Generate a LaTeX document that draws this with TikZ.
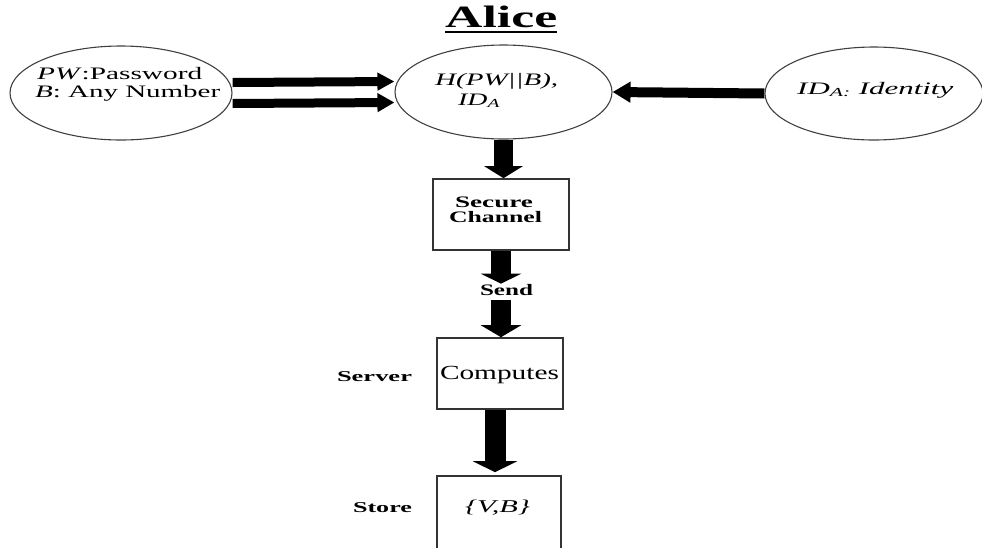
\documentclass[tikz,border=0pt]{standalone}
\usepackage{fontspec}
\setmainfont{Liberation Serif}
\usetikzlibrary{arrows.meta,shapes.geometric}

% stretch a piece of text horizontally to a given width, keeping its height
\newcommand{\widen}[2]{\resizebox{#1}{\height}{#2}}

\tikzset{
  oval/.style={ellipse, draw=black!75, line width=1.1pt, inner sep=0pt},
  stepbox/.style={rectangle, draw=black!80, line width=1.6pt, inner sep=0pt},
  txt/.style={inner sep=0pt, anchor=base},
  txtl/.style={inner sep=0pt, anchor=base west},
  fat/.style={draw=black, line width=#1},
}

\begin{document}
\begin{tikzpicture}[x=1pt,y=-1pt]
\useasboundingbox (0,0) rectangle (982,547);

% title
\node[txtl, font=\fontsize{31}{33}\selectfont\bfseries] (alice) at (445,27) {\widen{112pt}{Alice}};
\draw[line width=2pt] ([yshift=-5pt]alice.base west) -- ([yshift=-5pt]alice.base east);

% inputs on Alice's side
\node[oval, minimum width=222pt, minimum height=94pt] (pw) at (121,93) {};
\node[oval, minimum width=217pt, minimum height=94pt] (h)  at (503.5,92) {};
\node[oval, minimum width=218pt, minimum height=93pt] (id) at (874,93.5) {};

\node[txtl, font=\fontsize{17.5}{19}\selectfont] (pwa) at (37,79)
  {\widen{165pt}{\textit{PW}:Password}};
\node[txtl, font=\fontsize{17.5}{19}\selectfont] (pwb) at (35,97)
  {\widen{185pt}{\textit{B}: Any Number}};

\node[txtl, font=\fontsize{17.5}{19}\selectfont\itshape] (ha) at (435,85)
  {\widen{123pt}{H(PW||B),}};
\node[txtl, font=\fontsize{17.5}{19}\selectfont\itshape] (hb) at (458,105)
  {\widen{42pt}{ID\textsubscript{A}}};

\node[txtl, font=\fontsize{17.5}{19}\selectfont\itshape] (ida) at (797,94)
  {\widen{156pt}{ID\textsubscript{A:} Identity}};

% processing chain
\node[stepbox, minimum width=136pt, minimum height=71pt] (sc) at (501,214.5) {};
\node[stepbox, minimum width=126pt, minimum height=71pt] (cp) at (500,373.5) {};
\node[stepbox, minimum width=124pt, minimum height=74pt] (st) at (499,513) {};

\node[txt, font=\fontsize{16}{18}\selectfont\bfseries] (sca) at (494,207) {\widen{78pt}{Secure}};
\node[txt, font=\fontsize{16}{18}\selectfont\bfseries] (scb) at (495.5,222) {\widen{93pt}{Channel}};
\node[txt, font=\fontsize{16}{18}\selectfont\bfseries] (send) at (506.5,295) {\widen{53pt}{Send}};
\node[txt, font=\fontsize{20}{22}\selectfont] (cpt) at (499.5,379) {\widen{119pt}{Computes}};
\node[txt, font=\fontsize{18}{20}\selectfont] (stt) at (497.5,512) {\widen{65pt}{\textit{\{V,B\}}}};

\node[txt, font=\fontsize{15}{17}\selectfont\bfseries] (server) at (374.5,381) {\widen{75pt}{Server}};
\node[txt, font=\fontsize{15}{17}\selectfont\bfseries] (store) at (382.5,512) {\widen{59pt}{Store}};

% arrows
\draw[fat=9pt, -{Triangle[length=17pt,width=17pt]}]
  ([yshift=10.5pt]pw.east) -- ([yshift=10.5pt]h.west);
\draw[fat=9pt, -{Triangle[length=17pt,width=18pt]}]
  ([yshift=-10.5pt]pw.east) -- ([yshift=-10.5pt]h.west);
\draw[fat=10pt, -{Triangle[length=18pt,width=20pt]}]
  (id.west) -- (h.east);

\draw[fat=19pt, -{Triangle[length=12pt,width=38pt]}]
  (h.south) -- (h.south |- sc.north);
\draw[fat=20pt, -{Triangle[length=10pt,width=40pt]}]
  (sc.south) -- (sc.south |- send.north);
\draw[fat=20pt, -{Triangle[length=12pt,width=40pt]}, shorten <=5pt]
  (sc.south |- send.south) -- (sc.south |- cp.north);
\draw[fat=21pt, -{Triangle[length=11pt,width=44pt]}, shorten >=3pt]
  ([xshift=-5pt]cp.south) -- ([xshift=-5pt]cp.south |- st.north);
\end{tikzpicture}
\end{document}
